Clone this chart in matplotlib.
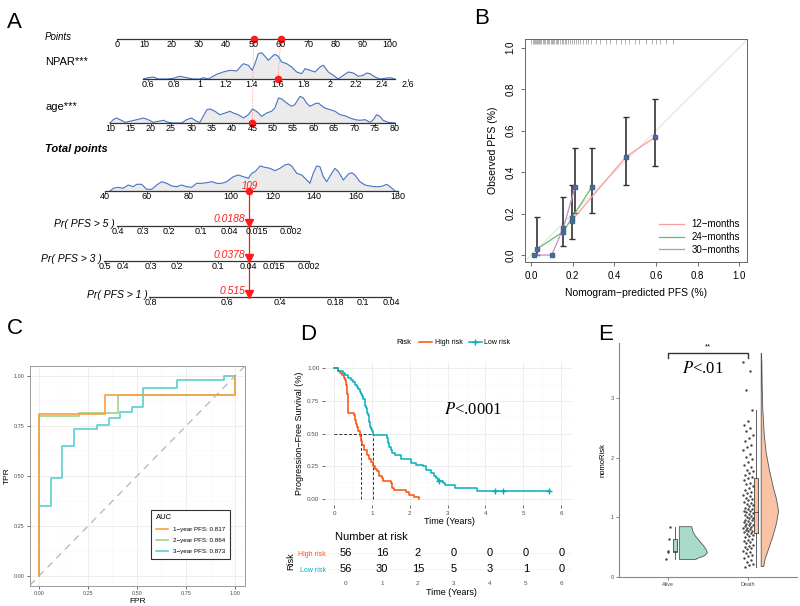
import matplotlib
matplotlib.use('Agg')
import matplotlib.pyplot as plt
import numpy as np
from matplotlib.lines import Line2D

plt.rcParams['font.family'] = ['Liberation Sans', 'DejaVu Sans']
plt.rcParams['mathtext.fontset'] = 'stix'

W, H = 800, 606


def box(l, t, r, b):
    # pixel box -> figure fraction
    return [l / W, 1 - b / H, (r - l) / W, (b - t) / H]


# ---------------- panel A: nomogram data ----------------
points_ticks = list(range(0, 101, 10))
npar_ticks = [0.6, 0.8, 1, 1.2, 1.4, 1.6, 1.8, 2, 2.2, 2.4, 2.6]
npar_labels = ['0.6', '0.8', '1', '1.2', '1.4', '1.6', '1.8', '2', '2.2', '2.4', '2.6']
age_ticks = list(range(10, 81, 5))
total_ticks = list(range(40, 181, 20))

pr5_labels = ['0.4', '0.3', '0.2', '0.1', '0.04', '0.015', '0.002']
pr5_at = [46.3, 57.9, 70.4, 85.9, 99.4, 112.4, 128.8]
pr3_labels = ['0.5', '0.4', '0.3', '0.2', '0.1', '0.04', '0.015', '0.002']
pr3_at = [40.0, 48.7, 61.7, 74.3, 94.1, 108.6, 120.6, 137.5]
pr1_labels = ['0.8', '0.6', '0.4', '0.18', '0.1', '0.04']
pr1_at = [61.7, 98.4, 123.5, 150.1, 163.1, 176.6]

# patient example
npar_val, npar_pts = 1.6, 60
age_val, age_pts = 45, 50
total_val = 109
pred_text = ['0.0188', '0.0378', '0.515']

# density outlines (variable value, height in px)
npar_dx = [0.564, 0.602, 0.641, 0.679, 0.744, 0.795, 0.846, 0.898, 0.949, 1.0, 1.025, 1.064,
           1.128, 1.179, 1.231, 1.282, 1.333, 1.372, 1.402, 1.423, 1.448, 1.474, 1.5, 1.525,
           1.551, 1.577, 1.602, 1.628, 1.667, 1.705, 1.744, 1.782, 1.808, 1.846, 1.885, 1.923,
           1.949, 1.987, 2.026, 2.064, 2.103, 2.141, 2.179, 2.218, 2.256, 2.282, 2.308, 2.346,
           2.385, 2.423, 2.462, 2.5]
npar_dh = [0, 1.3, 2, 0, 0, 0.7, 2.7, 1.3, 0, 0, 1.3, 0,
           4.7, 7, 8.7, 8, 15.3, 13.7, 8.7, 15.3, 25.3, 26.3, 22.7, 18.7,
           22, 24.7, 22.7, 17, 15.3, 12, 7, 5.3, 10.3, 8.7, 7, 12,
           13.7, 7, 3.7, 0, 3.7, 7, 6, 2.7, 3.7, 6, 5.3, 2,
           0, 0.7, 1.3, 0]
age_dx = [10.0, 10.8, 11.6, 12.5, 13.7, 14.9, 16.6, 18.2, 19.4, 20.6, 21.9, 23.1, 24.3, 25.6,
          27.6, 28.8, 30.0, 31.3, 32.1, 32.9, 33.8, 34.6, 35.8, 37.0, 38.3, 39.5, 40.3, 41.5,
          42.8, 44.0, 45.0, 46.0, 47.3, 48.5, 49.7, 50.5, 51.4, 52.2, 53.4, 54.6, 55.4, 56.7,
          57.5, 58.3, 59.1, 60.4, 61.2, 62.0, 62.8, 64.1, 65.3, 66.5, 67.7, 69.0, 70.2, 71.4,
          72.7, 73.9, 74.7, 75.5, 76.3, 77.1, 78.3, 80.0]
age_dh = [0, 3.3, 5, 3.3, 0.7, 1.7, 3.3, 5, 3.3, 0.7, 1.7, 2.7, 0.7, 0,
          0, 3.3, 5, 1.7, 0.7, 6.7, 13.3, 14, 11.7, 8.3, 10, 11.7, 10, 8.3,
          5, 8.3, 14, 11.7, 6.7, 10, 11.7, 15, 25, 24, 20, 16.7, 18.3, 26.7,
          25, 20, 16.7, 19.3, 20, 17.3, 15, 13.3, 11.7, 8.3, 7.3, 5, 3.3, 2.7,
          3.3, 0.7, 3.3, 8.3, 6.7, 2.7, 0.7, 0]
tot_dx = [42.4, 44.0, 46.4, 48.7, 51.1, 53.5, 55.1, 57.5, 59.9, 62.3, 64.7, 67.1, 69.5, 71.9,
          74.3, 76.6, 79.0, 81.4, 83.8, 86.2, 88.6, 91.0, 93.4, 95.8, 98.1, 101.3, 103.7, 106.1,
          108.5, 110.1, 111.7, 114.1, 116.4, 118.8, 121.2, 123.6, 126.0, 127.6, 129.2, 131.6,
          134.0, 136.4, 137.9, 139.5, 141.1, 142.7, 144.3, 145.9, 148.3, 149.9, 151.5, 153.9,
          156.3, 157.9, 159.4, 161.8, 164.2, 166.6, 169.0, 171.4, 173.0, 174.6, 176.2, 178.6]
tot_dh = [0, 2.7, 3.7, 2.7, 6, 4.3, 6.7, 6.7, 1.7, 1.7, 6, 9.3, 7.7, 5,
          4.3, 6, 4.3, 3.7, 7.7, 7.7, 8.3, 9.3, 7.7, 7.7, 9.3, 14.3, 16, 14.3,
          12.7, 17.7, 19.3, 25, 23.7, 22.7, 20.3, 22.7, 26, 27, 25, 17.7,
          16, 11, 7.7, 17.7, 25, 24.3, 14.3, 9.3, 17.7, 22.7, 19.3, 11,
          17, 18.3, 16, 9.3, 6, 5, 4.3, 4.3, 5.3, 6.7, 4.3, 0]

# ---------------- panel B: calibration ----------------
cal12_x = [0.195, 0.456, 0.595]
cal12_y = [0.166, 0.474, 0.568]
cal24_x = [0.030, 0.155, 0.195, 0.291]
cal24_y = [0.030, 0.113, 0.177, 0.327]
cal30_x = [0.016, 0.099, 0.155, 0.211]
cal30_y = [0.0, 0.0, 0.130, 0.327]
err_x = [0.030, 0.155, 0.195, 0.211, 0.291, 0.456, 0.595]
err_mid = [0.030, 0.113, 0.166, 0.327, 0.327, 0.474, 0.568]
err_lo = [0.0, 0.045, 0.078, 0.205, 0.205, 0.340, 0.430]
err_hi = [0.185, 0.280, 0.337, 0.518, 0.518, 0.664, 0.752]
rug_x = [0.0, 0.008, 0.012, 0.018, 0.022, 0.028, 0.033, 0.038, 0.043, 0.05, 0.055, 0.06,
         0.068, 0.075, 0.08, 0.088, 0.095, 0.1, 0.105, 0.112, 0.12, 0.125, 0.13, 0.14, 0.148,
         0.155, 0.162, 0.17, 0.178, 0.185, 0.195, 0.205, 0.215, 0.225, 0.235, 0.25, 0.262,
         0.275, 0.29, 0.31, 0.33, 0.36, 0.38, 0.41, 0.43, 0.45, 0.47, 0.5, 0.52, 0.55, 0.58,
         0.6, 0.62, 0.65, 0.68]

# ---------------- panel C: ROC ----------------
roc1_fpr = [0, 0, 0.335, 0.335, 1.0, 1.0]
roc1_tpr = [0, 0.808, 0.808, 0.903, 0.903, 1.0]
roc2_fpr = [0, 0, 0.202, 0.202, 0.403, 0.403, 1.0, 1.0]
roc2_tpr = [0, 0.798, 0.798, 0.812, 0.812, 0.903, 0.903, 1.0]
roc3_fpr = [0, 0, 0.058, 0.058, 0.117, 0.117, 0.176, 0.176, 0.296, 0.296, 0.354, 0.354,
            0.412, 0.412, 0.471, 0.471, 0.531, 0.531, 0.704, 0.704, 0.943, 0.943, 1.0]
roc3_tpr = [0, 0.349, 0.349, 0.487, 0.487, 0.647, 0.647, 0.733, 0.733, 0.755, 0.755, 0.787,
            0.787, 0.82, 0.82, 0.842, 0.842, 0.937, 0.937, 0.979, 0.979, 1.0, 1.0]
roc_labels = ['1\u2212year PFS: 0.817', '2\u2212year PFS: 0.864', '3\u2212year PFS: 0.873']

# ---------------- panel D: Kaplan-Meier ----------------
km_hi_t = [0, 0.10, 0.15, 0.21, 0.26, 0.29, 0.31, 0.33, 0.35, 0.37, 0.52, 0.56, 0.58, 0.61,
           0.64, 0.68, 0.70, 0.74, 0.79, 0.86, 0.92, 0.97, 1.03, 1.08, 1.13, 1.18, 1.25, 1.30,
           1.50, 1.54, 1.58, 1.90, 1.97, 2.10, 2.24]
km_hi_s = [1.0, 0.982, 0.964, 0.946, 0.929, 0.911, 0.875, 0.804, 0.714, 0.661, 0.643, 0.607,
           0.571, 0.554, 0.518, 0.482, 0.446, 0.411, 0.375, 0.339, 0.304, 0.286, 0.25, 0.232,
           0.214, 0.179, 0.161, 0.143, 0.125, 0.089, 0.071, 0.054, 0.036, 0.018, 0.0]
km_lo_t = [0, 0.10, 0.24, 0.28, 0.37, 0.45, 0.50, 0.55, 0.60, 0.63, 0.68, 0.71, 0.74, 0.77,
           0.80, 0.82, 0.85, 0.87, 0.89, 0.91, 0.93, 0.95, 0.97, 0.99, 1.02, 1.39, 1.42, 1.45,
           1.50, 1.53, 1.60, 1.76, 2.03, 2.16, 2.36, 2.42, 2.55, 2.63, 2.70, 2.74, 2.88, 2.92,
           3.20, 3.78, 5.70]
km_lo_s = [1.0, 0.982, 0.964, 0.946, 0.929, 0.911, 0.893, 0.875, 0.857, 0.839, 0.821, 0.804,
           0.786, 0.768, 0.750, 0.714, 0.696, 0.661, 0.643, 0.625, 0.589, 0.554, 0.536, 0.518,
           0.491, 0.464, 0.43, 0.40, 0.375, 0.35, 0.34, 0.305, 0.28, 0.265, 0.256, 0.224, 0.20,
           0.18, 0.16, 0.143, 0.125, 0.107, 0.089, 0.063, 0.063]
censor_t = [2.76, 4.25, 4.47, 5.68]
censor_s = [0.143, 0.063, 0.063, 0.063]
median_hi, median_lo = 0.70, 1.02
risk_times = [0, 1, 2, 3, 4, 5, 6]
risk_hi = [56, 16, 2, 0, 0, 0, 0]
risk_lo = [56, 30, 15, 5, 3, 1, 0]

# ---------------- panel E: raincloud ----------------
alive_vals = [0.84, 0.63, 0.44, 0.41, 0.29]
death_vals = [3.60, 3.45, 3.14, 2.80, 2.62, 2.55, 2.50, 2.44, 2.38, 2.33, 2.28, 2.22, 2.17,
              2.12, 2.06, 2.01, 1.97, 1.93, 1.88, 1.84, 1.80, 1.77, 1.74, 1.71, 1.68,
              1.65, 1.62, 1.58, 1.55, 1.52, 1.49, 1.46, 1.43, 1.40, 1.37, 1.35, 1.33, 1.30,
              1.28, 1.26, 1.24, 1.22, 1.20, 1.18, 1.16, 1.14, 1.13, 1.11, 1.10, 1.09,
              1.07, 1.05, 1.04, 1.02, 1.01, 0.99, 0.98, 0.96, 0.95, 0.93, 0.92, 0.90, 0.89,
              0.87, 0.86, 0.85, 0.83, 0.82, 0.81, 0.80, 0.78, 0.77, 0.76, 0.75, 0.74,
              0.72, 0.70, 0.68, 0.66, 0.64, 0.62, 0.60, 0.58, 0.56, 0.54, 0.52, 0.50, 0.48,
              0.46, 0.44, 0.42, 0.40, 0.37, 0.34, 0.31, 0.28, 0.25, 0.22, 0.19, 0.17]
alive_vy = [0.29, 0.30, 0.35, 0.40, 0.45, 0.52, 0.60, 0.68, 0.76, 0.84]
alive_vw = [0.21, 0.21, 0.31, 0.347, 0.335, 0.30, 0.25, 0.20, 0.167, 0.153]
death_vy = [0.17, 0.3, 0.5, 0.7, 0.9, 1.1, 1.3, 1.5, 1.8, 2.1, 2.4, 2.8, 3.2, 3.6, 3.75]
death_vw = [0.03, 0.05, 0.10, 0.15, 0.19, 0.215, 0.19, 0.15, 0.10, 0.06, 0.037, 0.02, 0.012,
            0.008, 0.004]
groups = ['Alive', 'Death']

fig = plt.figure(figsize=(8, 6.06), dpi=100)

# ================= A =================
axA = fig.add_axes(box(0, 0, 420, 310))
axA.set_xlim(0, 420)
axA.set_ylim(310, 0)
axA.axis('off')


def pts_x(v):
    return 117 + 2.73 * np.asarray(v, dtype=float)


def npar_x(v):
    return 148 + (np.asarray(v, dtype=float) - 0.6) * 130


def age_x(v):
    return 110 + (np.asarray(v, dtype=float) - 10) * 4.07


def tot_x(v):
    return 105 + (np.asarray(v, dtype=float) - 40) * 2.093


def scale_row(xs, labels, y, x0, x1, fs=6.5):
    axA.plot([x0, x1], [y, y], color='#333333', lw=0.9)
    for x, lab in zip(xs, labels):
        axA.plot([x, x], [y, y + 2.2], color='#333333', lw=0.6)
        axA.text(x, y + 1.2, lab, ha='center', va='top', fontsize=fs)


def density(xs, hs, y):
    top = y - np.asarray(hs)
    axA.fill_between(xs, y, top, color='#EBEBEB', lw=0)
    axA.plot(xs, top, color='#4472C4', lw=0.8)


y_pts, y_npar, y_age, y_tot = 39, 79, 123, 191
y_pr = [226, 261, 297]

axA.text(7, 22, 'A', fontsize=16, va='center')
axA.text(45, 37, 'Points', fontsize=7, style='italic', va='center')
axA.text(45, 62, 'NPAR***', fontsize=8, va='center')
axA.text(45, 107, 'age***', fontsize=8, va='center')
axA.text(45, 149, 'Total points', fontsize=8, style='italic', weight='bold', va='center')

scale_row(pts_x(points_ticks), [str(v) for v in points_ticks], y_pts, pts_x(0), pts_x(100))

npx = npar_x(npar_dx)
density(npx, npar_dh, y_npar)
scale_row(npar_x(npar_ticks), npar_labels, y_npar, npx[0], npx[-1])

agx = age_x(age_dx)
density(agx, age_dh, y_age)
scale_row(age_x(age_ticks), [str(v) for v in age_ticks], y_age, age_x(10), age_x(80))

ttx = tot_x(tot_dx)
density(ttx, tot_dh, y_tot)
scale_row(tot_x(total_ticks), [str(v) for v in total_ticks], y_tot, tot_x(40), tot_x(180))

pr_names = ['Pr( PFS > 5 )', 'Pr( PFS > 3 )', 'Pr( PFS > 1 )']
for name, at, labs, y in zip(pr_names, [pr5_at, pr3_at, pr1_at],
                             [pr5_labels, pr3_labels, pr1_labels], y_pr):
    xs = tot_x(at)
    scale_row(xs, labs, y, xs[0] - 1.5, xs[-1])
    axA.text(xs[0] - 3, y - 2, name, fontsize=7.5, style='italic', ha='right', va='center')

# example patient overlay
red = '#FF1A1A'
axA.plot([pts_x(npar_pts), npar_x(npar_val)], [y_pts, y_npar], color='#FF7777', lw=0.6, ls=':')
axA.plot([pts_x(age_pts), age_x(age_val)], [y_pts, y_age], color='#FF7777', lw=0.6, ls=':')
axA.plot([pts_x(age_pts), pts_x(npar_pts)], [y_pts, y_pts], 'o', color=red, ms=4.5)
axA.plot([npar_x(npar_val)], [y_npar], 'o', color=red, ms=4.5)
axA.plot([age_x(age_val)], [y_age], 'o', color=red, ms=4.5)
tx = tot_x(total_val)
axA.plot([tx, tx], [y_tot, y_pr[-1] - 3], color=red, lw=0.9)
axA.plot([tx], [y_tot], 'o', color=red, ms=4.5)
axA.text(tx, y_tot - 5, str(total_val), color=red, fontsize=7, style='italic', ha='center',
         va='center')
for y, t in zip(y_pr, pred_text):
    axA.plot([tx], [y - 3], 'v', color=red, ms=5.5)
    axA.text(tx - 4, y - 6.5, t, color=red, fontsize=7.5, style='italic', ha='right',
             va='center')

# ================= B =================
fig.text(482 / W, 1 - 18 / H, 'B', fontsize=16, va='center', ha='center')
axB = fig.add_axes(box(525, 39.3, 746.7, 261.7))
axB.set_xlim(-0.029, 1.035)
axB.set_ylim(-0.032, 1.04)
axB.axline((0, 0), (1, 1), color='#E8E8E8', lw=1)
axB.vlines(rug_x, 1.018, 1.04, color='#777777', lw=0.4)
axB.errorbar(err_x, err_mid,
             yerr=[np.array(err_mid) - np.array(err_lo), np.array(err_hi) - np.array(err_mid)],
             fmt='none', ecolor='#333333', elinewidth=1.2, capsize=2.2, capthick=1)
axB.plot(cal12_x, cal12_y, color='#FF9999', lw=0.9, label='12\u2212months')
axB.plot(cal24_x, cal24_y, color='#66BB66', lw=0.9, label='24\u2212months')
axB.plot(cal30_x, cal30_y, color='#CC88CC', lw=0.9, label='30\u2212months')
for cx, cy in [(cal12_x, cal12_y), (cal24_x, cal24_y), (cal30_x, cal30_y)]:
    axB.plot(cx, cy, 's', color='#2F6F6F', ms=2.5, ls='none')
    axB.plot(cx, cy, 'x', color='#6060C0', ms=3, mew=0.8, ls='none')
axB.set_xticks([0, 0.2, 0.4, 0.6, 0.8, 1.0])
axB.set_yticks([0, 0.2, 0.4, 0.6, 0.8, 1.0])
axB.set_xticklabels(['0.0', '0.2', '0.4', '0.6', '0.8', '1.0'], fontsize=7)
axB.set_yticklabels(['0.0', '0.2', '0.4', '0.6', '0.8', '1.0'], fontsize=7, rotation=90,
                    va='center')
axB.tick_params(direction='out', length=3, width=0.6, color='#555555', pad=4)
for s in axB.spines.values():
    s.set_color('#666666')
    s.set_linewidth(0.7)
axB.set_xlabel('Nomogram\u2212predicted PFS (%)', fontsize=7.5, labelpad=5)
axB.set_ylabel('Observed PFS (%)', fontsize=7.5, labelpad=5)
axB.legend(loc='lower right', frameon=False, fontsize=7, handlelength=2.5,
           borderaxespad=0.3, labelspacing=0.3)

# ================= C =================
fig.text(7 / W, 1 - 329 / H, 'C', fontsize=16, va='center')
axC = fig.add_axes(box(30, 365.7, 245, 585.7))
axC.set_xlim(-0.047, 1.049)
axC.set_ylim(-0.05, 1.05)
ticks4 = [0, 0.25, 0.5, 0.75, 1.0]
axC.set_xticks(ticks4)
axC.set_yticks(ticks4)
axC.set_xticks([0.125, 0.375, 0.625, 0.875], minor=True)
axC.set_yticks([0.125, 0.375, 0.625, 0.875], minor=True)
axC.set_xticklabels(['0.00', '0.25', '0.50', '0.75', '1.00'], fontsize=4, color='#4D4D4D')
axC.set_yticklabels(['0.00', '0.25', '0.50', '0.75', '1.00'], fontsize=4, color='#4D4D4D')
axC.grid(which='major', color='#EBEBEB', lw=0.6)
axC.grid(which='minor', color='#F2F2F2', lw=0.3)
axC.set_axisbelow(True)
axC.tick_params(which='major', length=2, width=0.5, color='#333333', pad=2)
axC.tick_params(which='minor', length=0)
for s in axC.spines.values():
    s.set_color('#9A9A9A')
    s.set_linewidth(0.7)
axC.axline((0, 0), (1, 1), color='#BBBBBB', lw=1, ls=(0, (5, 4)))
axC.plot(roc3_fpr, roc3_tpr, color='#5CCFCF', lw=1.2, label=roc_labels[2])
axC.plot(roc2_fpr, roc2_tpr, color='#9CD48A', lw=1.2, label=roc_labels[1])
axC.plot(roc1_fpr, roc1_tpr, color='#F7A040', lw=1.2, label=roc_labels[0])
axC.set_xlabel('FPR', fontsize=6, labelpad=1.5)
axC.set_ylabel('TPR', fontsize=6, labelpad=2)
h, l = axC.get_legend_handles_labels()
legC = axC.legend(h[::-1], l[::-1], title='AUC', loc='upper left',
                  bbox_to_anchor=(0.549, 0.359), fontsize=4.5, title_fontsize=5.5,
                  fancybox=False, edgecolor='#333333', handlelength=2, framealpha=1,
                  labelspacing=0.9, borderpad=0.7)
legC._legend_box.align = 'left'
legC.get_frame().set_linewidth(0.8)

# ================= D =================
fig.text(300 / W, 1 - 335 / H, 'D', fontsize=16, va='center')
c_hi, c_lo = '#FC4E07', '#00AFBB'
axD = fig.add_axes(box(325, 361.7, 573, 505))
axD.set_xlim(-0.246, 6.318)
axD.set_ylim(-0.044, 1.05)
axD.set_xticks(range(0, 7))
axD.set_xticks(np.arange(0.5, 6, 1), minor=True)
axD.set_yticks([0, 0.25, 0.5, 0.75, 1.0])
axD.set_yticks([0.125, 0.375, 0.625, 0.875], minor=True)
axD.set_xticklabels([str(v) for v in range(7)], fontsize=4.5, color='#4D4D4D')
axD.set_yticklabels(['0.00', '0.25', '0.50', '0.75', '1.00'], fontsize=4.5, color='#4D4D4D')
axD.grid(which='major', color='#EBEBEB', lw=0.6)
axD.grid(which='minor', color='#F4F4F4', lw=0.3)
axD.set_axisbelow(True)
axD.tick_params(which='major', length=2, width=0.5, color='#333333', pad=2)
axD.tick_params(which='minor', length=0)
for s in axD.spines.values():
    s.set_visible(False)
axD.plot([0, median_lo], [0.5, 0.5], color='#333333', lw=0.7, ls=(0, (3, 2)))
axD.plot([median_hi, median_hi], [0, 0.5], color='#333333', lw=0.7, ls=(0, (3, 2)))
axD.plot([median_lo, median_lo], [0, 0.5], color='#333333', lw=0.7, ls=(0, (3, 2)))
axD.step(km_hi_t, km_hi_s, where='post', color=c_hi, lw=1.1)
axD.step(km_lo_t, km_lo_s, where='post', color=c_lo, lw=1.1)
axD.plot(censor_t, censor_s, '+', color=c_lo, ms=4, mew=1)
axD.text(3.66, 0.68, r'$P$<.0001', fontsize=12, family='Liberation Serif', ha='center',
         va='center')
axD.set_xlabel('Time (Years)', fontsize=6.5, labelpad=1)
axD.set_ylabel('Progression\u2212Free Survival (%)', fontsize=6.5, labelpad=2)
fig.text(396 / W, 1 - 343 / H, 'Risk', fontsize=5.5, va='center')
hD = [Line2D([], [], color=c_hi, lw=1.1), Line2D([], [], color=c_lo, lw=1.1, marker='+', ms=4)]
fig.legend(hD, ['High risk', 'Low risk'], loc='center left',
           bbox_to_anchor=(413 / W, 1 - 343 / H), ncol=2, frameon=False, fontsize=5,
           handlelength=1.8, handletextpad=0.4, columnspacing=1.0)

# risk table
fig.text(335 / W, 1 - 537 / H, 'Number at risk', fontsize=8, va='center')
axT = fig.add_axes(box(330, 545, 573, 577))
axT.set_xlim((330 - 346) / 35.95, (573 - 346) / 35.95)
axT.set_ylim(0.5, 2.5)
for t, a, b in zip(risk_times, risk_hi, risk_lo):
    axT.text(t, 2, str(a), fontsize=8, ha='center', va='center')
    axT.text(t, 1, str(b), fontsize=8, ha='center', va='center')
axT.set_xticks(risk_times)
axT.set_xticklabels([str(v) for v in risk_times], fontsize=4.5, color='#4D4D4D')
axT.set_yticks([2, 1])
axT.set_yticklabels(['High risk', 'Low risk'], fontsize=5)
axT.get_yticklabels()[0].set_color(c_hi)
axT.get_yticklabels()[1].set_color(c_lo)
axT.grid(which='major', color='#F0F0F0', lw=0.5)
axT.tick_params(length=0, pad=3)
for s in axT.spines.values():
    s.set_visible(False)
axT.set_xlabel('Time (Years)', fontsize=6.5, labelpad=1)
axT.set_ylabel('Risk', fontsize=6.5, labelpad=2)

# ================= E =================
fig.text(598 / W, 1 - 335 / H, 'E', fontsize=16, va='center')
axE = fig.add_axes(box(619, 342.7, 796.7, 576.7))
axE.set_xlim(0.397, 2.6)
axE.set_ylim(0, 3.93)
c_alive, c_death = '#A8DCC8', '#F9C3A5'
# half violins
for pos, vy, vw, col in [(1.145, alive_vy, alive_vw, c_alive), (2.16, death_vy, death_vw, c_death)]:
    xs = np.concatenate([[pos], pos + np.asarray(vw), [pos]])
    ys = np.concatenate([[vy[0]], vy, [vy[-1]]])
    axE.fill(xs, ys, facecolor=col, edgecolor='#555555', lw=0.6, zorder=2)
# boxes
bp = axE.boxplot([alive_vals, death_vals], positions=[1.09, 2.1], widths=0.05,
                 showfliers=False, patch_artist=True, whis=1.5, showcaps=False)
for patch, col in zip(bp['boxes'], [c_alive, c_death]):
    patch.set_facecolor(col)
    patch.set_edgecolor('#444444')
    patch.set_linewidth(0.6)
for key in ['whiskers', 'medians']:
    for ln in bp[key]:
        ln.set_color('#444444')
        ln.set_linewidth(0.6)
# jittered points (fixed, spread offsets)
jit_a = [0.03, 0.02, 0.01, 0.0, -0.02]
axE.scatter(1 + np.array(jit_a), alive_vals, s=3, color='#444444', zorder=3, lw=0)
jit_d = [((i * 0.6180339) % 1 - 0.5) * 0.13 for i in range(len(death_vals))]
axE.scatter(2 + np.array(jit_d), death_vals, s=3, color='#444444', zorder=3, lw=0)
# significance
axE.plot([1, 1, 2, 2], [3.67, 3.765, 3.765, 3.67], color='#333333', lw=1)
axE.text(1.5, 3.8, '**', fontsize=5.5, ha='center', va='bottom')
axE.text(1.44, 3.49, r'$P$<.01', fontsize=12, family='Liberation Serif', ha='center',
         va='center')
axE.set_xticks([1, 2])
axE.set_xticklabels(groups, fontsize=4, color='#4D4D4D')
axE.set_yticks([0, 1, 2, 3])
axE.set_yticklabels(['0', '1', '2', '3'], fontsize=4, color='#4D4D4D')
axE.tick_params(length=2, width=0.5, color='#555555', pad=2)
axE.spines['top'].set_visible(False)
axE.spines['right'].set_visible(False)
for s in ['left', 'bottom']:
    axE.spines[s].set_color('#888888')
    axE.spines[s].set_linewidth(0.8)
axE.set_ylabel('nomoRisk', fontsize=5.5, labelpad=3)

fig.savefig('out.png', dpi=100)
